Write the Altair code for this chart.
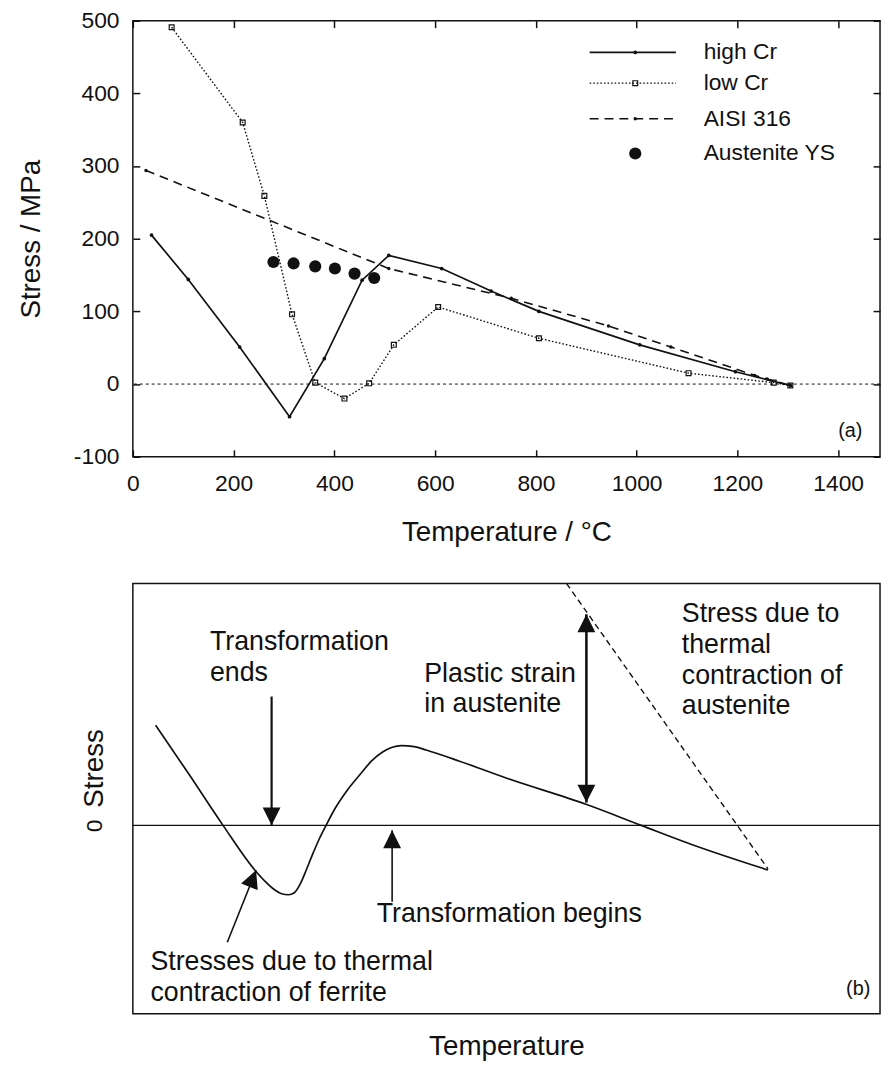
import altair as alt
import pandas as pd

# ---------------- panel (a): measured stress vs temperature ----------------
high_cr_T = [37, 110, 212, 311, 380, 455, 508, 613, 711, 806, 1006, 1196, 1305]
high_cr_S = [205, 144, 51, -45, 35, 143, 177, 159, 128, 100, 54, 17, -2]
low_cr_T = [77, 218, 261, 316, 362, 420, 469, 518, 606, 806, 1103, 1272, 1305]
low_cr_S = [491, 360, 259, 96, 2, -20, 1, 54, 106, 63, 15, 2, -2]
aisi_T = [26, 508, 751, 944, 1068, 1234, 1259, 1305]
aisi_S = [294, 159, 118, 80, 51, 12, 7, -2]
ys_T = [279, 319, 362, 401, 440, 479]
ys_S = [168, 166, 162, 159, 152, 146]
legend_names = ["high Cr", "low Cr", "AISI 316", "Austenite YS"]
x_ticks = [0, 200, 400, 600, 800, 1000, 1200, 1400]
y_ticks = [-100, 0, 100, 200, 300, 400, 500]

# ---------------- panel (b): schematic ----------------
curve_x = [3.05, 7.56, 12.07, 16.31, 17.77, 18.97, 19.89, 20.82, 21.62, 22.41, 23.21, 24.01,
           24.93, 25.86, 27.06, 28.65, 30.37, 31.96, 33.42, 34.62, 35.94, 37.67, 39.26, 43.63,
           49.87, 60.74, 68.04, 75.07, 85.01]
curve_y = [10.1, 5.1, 0.0, -4.5, -5.7, -6.5, -6.9, -7.0, -6.8, -5.9, -4.5, -3.0,
           -1.4, 0.0, 1.7, 3.5, 5.1, 6.5, 7.4, 7.85, 8.05, 7.95, 7.6, 6.5,
           4.8, 2.1, 0.0, -2.0, -4.5]
austenite_x = [58.05, 85.01]
austenite_y = [24.4, -4.4]
arrow_x0 = [18.57, 34.70, 60.70, 12.64]
arrow_y0 = [13.0, -7.7, 2.3, -11.8]
arrow_x1 = [18.57, 34.70, 60.70, 16.49]
arrow_y1 = [0.0, -0.5, 21.3, -4.53]
head_x = [18.57, 34.70, 60.70, 60.70, 16.49]
head_y = [0.0, -0.5, 21.3, 2.3, -4.53]
head_angle = [180, 0, 0, 180, 21.75]
note_text = ["Transformation\nends", "Plastic strain\nin austenite",
             "Stress due to\nthermal\ncontraction of\naustenite",
             "Transformation begins", "Stresses due to thermal\ncontraction of ferrite"]
note_x = [10.32, 39.0, 73.47, 32.63, 2.35]
note_y = [19.8, 16.6, 22.6, -7.7, -12.5]

FONT = "Liberation Sans"
INK = "#111111"
W = 754
HA = 440
HB = 434
TOP = 20  # expected page y of plot (a) top

xa = alt.Scale(domain=[0, 1483], nice=False, zero=False)
ya = alt.Scale(domain=[-100, 500], nice=False, zero=False)
xb = alt.Scale(domain=[0, 100], nice=False, zero=False)
yb = alt.Scale(domain=[-19, 24.4], nice=False, zero=False)

df_high = pd.DataFrame({"T": high_cr_T, "S": high_cr_S})
df_low = pd.DataFrame({"T": low_cr_T, "S": low_cr_S})
df_aisi = pd.DataFrame({"T": aisi_T, "S": aisi_S})
df_ys = pd.DataFrame({"T": ys_T, "S": ys_S})
axis_df = pd.DataFrame({"T": [0], "S": [0]})


def xy_a(ch):
    return ch.encode(x=alt.X("T:Q", scale=xa, axis=None), y=alt.Y("S:Q", scale=ya, axis=None))


lab = "datum.value + ''"
axes_bl = alt.Chart(axis_df).mark_point(opacity=0).encode(
    x=alt.X("T:Q", scale=xa, axis=alt.Axis(
        orient="bottom", values=x_ticks, tickSize=7, offset=-7, domain=False, grid=False,
        labelFontSize=23, labelPadding=16, labelFlush=False, labelOverlap=False, labelExpr=lab,
        title="Temperature / °C", titleFontSize=28, titlePadding=24, titleFontWeight="normal")),
    y=alt.Y("S:Q", scale=ya, axis=alt.Axis(
        orient="left", values=y_ticks, tickSize=7, offset=-7, domain=False, grid=False,
        labelFontSize=23, labelPadding=14, labelFlush=False, labelOverlap=False, labelExpr=lab,
        title="Stress / MPa", titleFontSize=28, titlePadding=28, titleFontWeight="normal")),
)
axes_tr = alt.Chart(axis_df).mark_point(opacity=0).encode(
    x=alt.X("T:Q", scale=xa, axis=alt.Axis(
        orient="top", values=x_ticks, tickSize=7, offset=-7, domain=False, labels=False,
        grid=False, title=None)),
    y=alt.Y("S:Q", scale=ya, axis=alt.Axis(
        orient="right", values=y_ticks, tickSize=7, offset=-7, domain=False, labels=False,
        grid=False, title=None)),
)

zero_a = alt.Chart(pd.DataFrame({"S": [0]})).mark_rule(
    color=INK, strokeWidth=1, strokeDash=[3, 3]).encode(y=alt.Y("S:Q", scale=ya, axis=None))

high_line = xy_a(alt.Chart(df_high).mark_line(color=INK, strokeWidth=1.7))
high_pts = xy_a(alt.Chart(df_high).mark_point(filled=True, shape="circle", size=14, color=INK, opacity=1))
low_line = xy_a(alt.Chart(df_low).mark_line(color=INK, strokeWidth=1.4, strokeDash=[1.6, 2]))
low_pts = xy_a(alt.Chart(df_low).mark_point(filled=False, shape="square", size=24, color=INK,
                                            strokeWidth=1.2, opacity=1))
aisi_line = xy_a(alt.Chart(df_aisi).mark_line(color=INK, strokeWidth=1.6, strokeDash=[9, 6]))
aisi_pts = xy_a(alt.Chart(df_aisi).mark_point(filled=True, shape="circle", size=12, color=INK, opacity=1))
ys_pts = xy_a(alt.Chart(df_ys).mark_circle(size=150, color=INK, opacity=1))

# legend (inside plot, top right)
leg_rows = [52 - TOP, 83 - TOP, 119 - TOP, 154 - TOP]
LX0, LX1, LXM, LXT = 595 - 134, 682 - 134, 641 - 134, 710 - 134
legend_layers = []
leg_line_styles = [dict(strokeWidth=1.7), dict(strokeWidth=1.4, strokeDash=[1.6, 2]),
                   dict(strokeWidth=1.6, strokeDash=[9, 6])]
leg_pt_styles = [dict(filled=True, shape="circle", size=14), dict(filled=False, shape="square", size=24, strokeWidth=1.2),
                 dict(filled=True, shape="circle", size=12), dict(filled=True, shape="circle", size=150)]
for i, name in enumerate(legend_names):
    d = pd.DataFrame({"name": [name]})
    if i < 3:
        legend_layers.append(alt.Chart(d).mark_rule(color=INK, **leg_line_styles[i]).encode(
            x=alt.value(LX0), x2=alt.value(LX1), y=alt.value(leg_rows[i])))
    legend_layers.append(alt.Chart(d).mark_point(color=INK, opacity=1, **leg_pt_styles[i]).encode(
        x=alt.value(LXM), y=alt.value(leg_rows[i])))
    legend_layers.append(alt.Chart(d).mark_text(
        align="left", baseline="middle", font=FONT, fontSize=23, color=INK).encode(
        x=alt.value(LXT), y=alt.value(leg_rows[i]), text="name:N"))

tag_a = alt.Chart(pd.DataFrame({"t": ["(a)"]})).mark_text(
    align="center", baseline="middle", font=FONT, fontSize=20, color=INK).encode(
    x=alt.value(858 - 134), y=alt.value(HA - 26), text="t:N")

panel_a = alt.layer(axes_bl, axes_tr, zero_a, low_line, aisi_line, high_line, low_pts, aisi_pts,
                    high_pts, ys_pts, tag_a, *legend_layers).resolve_axis(
    x="independent", y="independent").properties(width=W, height=HA)

# ---------------- panel (b) ----------------
axis_df_b = pd.DataFrame({"x": [0], "y": [0]})
axes_b = alt.Chart(axis_df_b).mark_point(opacity=0).encode(
    x=alt.X("x:Q", scale=xb, axis=alt.Axis(
        orient="bottom", labels=False, ticks=False, domain=False, grid=False,
        title="Temperature", titleFontSize=28, titlePadding=19, titleFontWeight="normal")),
    y=alt.Y("y:Q", scale=yb, axis=alt.Axis(
        orient="left", values=[0], ticks=False, tickSize=0, domain=False, grid=False,
        labelAngle=270, labelAlign="center", labelBaseline="middle", labelPadding=39,
        labelFontSize=23, labelExpr=lab,
        title="Stress", titleFontSize=28, titleX=-39, titleY=186, titleAngle=270,
        titleAlign="center", titleBaseline="middle", titleFontWeight="normal")),
)


def xy_b(ch, xf="x", yf="y"):
    return ch.encode(x=alt.X(f"{xf}:Q", scale=xb, axis=None), y=alt.Y(f"{yf}:Q", scale=yb, axis=None))


zero_b = alt.Chart(pd.DataFrame({"y": [0]})).mark_rule(color=INK, strokeWidth=1.3).encode(
    y=alt.Y("y:Q", scale=yb, axis=None))
curve = xy_b(alt.Chart(pd.DataFrame({"x": curve_x, "y": curve_y})).mark_line(
    color=INK, strokeWidth=1.7, interpolate="monotone"))
aus = xy_b(alt.Chart(pd.DataFrame({"x": austenite_x, "y": austenite_y})).mark_line(
    color=INK, strokeWidth=1.4, strokeDash=[6, 4]))
arrows_df = pd.DataFrame({"x": arrow_x0, "y": arrow_y0, "x2": arrow_x1, "y2": arrow_y1,
                          "w": [2.2, 1.6, 2.6, 1.6]})
shafts = alt.Chart(arrows_df).mark_rule(color=INK).encode(
    x=alt.X("x:Q", scale=xb, axis=None), y=alt.Y("y:Q", scale=yb, axis=None),
    x2="x2:Q", y2="y2:Q",
    strokeWidth=alt.StrokeWidth("w:Q", scale=None, legend=None))
heads = alt.Chart(pd.DataFrame({"x": head_x, "y": head_y, "a": head_angle})).mark_point(
    shape="M0,0 L1,2 L-1,2 Z", filled=True, size=324, color=INK, opacity=1, strokeWidth=0).encode(
    x=alt.X("x:Q", scale=xb, axis=None), y=alt.Y("y:Q", scale=yb, axis=None),
    angle=alt.Angle("a:Q", scale=None, legend=None))
notes = alt.Chart(pd.DataFrame({"x": note_x, "y": note_y, "t": note_text})).mark_text(
    align="left", baseline="top", font=FONT, fontSize=27, lineHeight=31, lineBreak="\n",
    color=INK).encode(
    x=alt.X("x:Q", scale=xb, axis=None), y=alt.Y("y:Q", scale=yb, axis=None), text="t:N")
tag_b = alt.Chart(pd.DataFrame({"t": ["(b)"]})).mark_text(
    align="center", baseline="middle", font=FONT, fontSize=20, color=INK).encode(
    x=alt.value(866 - 134), y=alt.value(HB - 25), text="t:N")

panel_b = alt.layer(axes_b, zero_b, aus, curve, shafts, heads, notes, tag_b).resolve_axis(
    x="independent", y="independent").properties(width=W, height=HB)

chart = alt.vconcat(panel_a, panel_b, spacing=32).properties(
    padding={"left": 9, "top": -4, "right": 0, "bottom": 0}
).configure_axis(
    labelFont=FONT, titleFont=FONT, labelColor=INK, titleColor=INK, tickColor=INK, tickWidth=1.5
).configure_view(stroke=INK, strokeWidth=1.5)

chart.save("out.html", embed_options={"renderer": "svg", "actions": False})
